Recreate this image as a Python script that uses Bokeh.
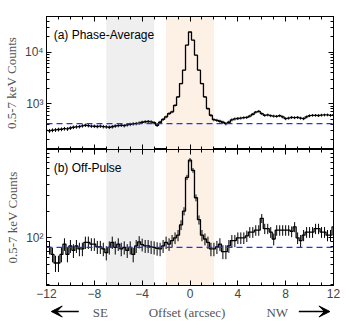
import numpy as np
from bokeh.plotting import figure
from bokeh.models import (Range1d, FixedTicker, LinearAxis, LogAxis, BoxAnnotation,
                          Span, Label, Arrow, VeeHead, CustomJSTickFormatter)
from bokeh.layouts import column
from bokeh.embed import file_html
from bokeh.resources import INLINE

# ---------------- data ----------------
offset = np.arange(-12.0, 12.001, 0.25)   # bin centres (arcsec)

counts_avg = [
    305, 300, 308, 312,
    318, 322, 330, 326,
    340, 352, 358, 362,
    375, 385, 378, 370,
    368, 364, 370, 362,
    358, 352, 360, 372,
    380, 385, 378, 392,
    400, 410, 415, 425,
    440, 450, 455, 448,
    430, 385, 440, 500,
    560, 650, 700, 935,
    1370, 2490, 4520, 13900,
    25000, 17400, 8850, 4520,
    2490, 1370, 810, 600,
    494, 480, 460, 440,
    413, 440, 490, 510,
    520, 530, 540, 545,
    580, 630, 690, 718,
    650, 600, 610, 590,
    580, 575, 590, 560,
    517, 530, 545, 540,
    545, 530, 517, 560,
    590, 600, 600, 595,
    605, 610, 612, 600,
    610]

counts_off = [
    78, 78, 65, 52,
    52, 65, 85, 65,
    81, 72, 81, 75,
    75, 89, 89, 85,
    85, 79, 79, 75,
    68, 78, 89, 78,
    85, 75, 78, 72,
    78, 65, 81, 90,
    84, 81, 81, 79,
    78, 76, 75, 81,
    89, 85, 93, 100,
    107, 140, 200, 480,
    752, 576, 283, 160,
    107, 97, 89, 75,
    75, 79, 85, 70,
    70, 81, 93, 93,
    100, 100, 100, 105,
    116, 116, 122, 122,
    166, 127, 127, 116,
    97, 122, 122, 122,
    122, 122, 118, 133,
    100, 93, 107, 116,
    116, 116, 127, 127,
    116, 116, 107, 107,
    133]

background_avg = 413
background_off = 78
bkg_region = (-7, -3)
src_region = (-2, 2)
x_major = [-12, -8, -4, 0, 4, 8, 12]
x_minor = list(range(-12, 13))
dir_labels = ["SE", "Offset (arcsec)", "NW"]
dir_label_x = [-7.5, -0.25, 7.3]

SERIF = "Liberation Serif"
SANS = "Liberation Sans"
LBL_COL = "#555555"
W = 340
BL, BR = 37, 7


def style_axis(ax, labels=True):
    ax.axis_line_color = "black"
    ax.major_tick_in = 5
    ax.major_tick_out = 0
    ax.minor_tick_in = 3
    ax.minor_tick_out = 0
    ax.major_tick_line_color = "black"
    ax.minor_tick_line_color = "black"
    ax.major_label_text_font = SANS
    ax.major_label_text_font_size = "12px"
    ax.major_label_text_color = "#444444"
    if labels:
        ax.major_label_standoff = 3
    else:
        ax.formatter = CustomJSTickFormatter(code="return ''")
        ax.major_label_standoff = 0
        ax.axis_label = None


def panel(counts, bkg, yr, ymaj, ymin, overrides, height, btop, bbot, show_x, title):
    p = figure(width=W, height=height, y_axis_type="log",
               x_range=Range1d(-12, 12), y_range=Range1d(*yr),
               output_backend="svg", toolbar_location=None,
               min_border_left=BL, min_border_right=BR,
               min_border_top=btop, min_border_bottom=bbot)
    p.grid.visible = False
    p.outline_line_color = "black"
    p.background_fill_color = "white"

    xt = FixedTicker(ticks=x_major, minor_ticks=x_minor)
    yt = FixedTicker(ticks=ymaj, minor_ticks=ymin)

    p.xaxis.ticker = xt
    p.yaxis.ticker = yt
    style_axis(p.xaxis[0], labels=show_x)
    style_axis(p.yaxis[0], labels=True)
    p.yaxis.major_label_overrides = overrides
    p.yaxis.axis_label = "0.5-7 keV Counts"
    p.yaxis.axis_label_text_font = SERIF
    p.yaxis.axis_label_text_font_style = "normal"
    p.yaxis.axis_label_text_font_size = "13px"
    p.yaxis.axis_label_text_color = LBL_COL
    p.yaxis.axis_label_standoff = 3

    top = LinearAxis(ticker=xt)
    style_axis(top, labels=False)
    p.add_layout(top, "above")
    right = LogAxis(ticker=yt)
    style_axis(right, labels=False)
    p.add_layout(right, "right")

    p.add_layout(BoxAnnotation(left=bkg_region[0], right=bkg_region[1],
                               fill_color="#efefef", fill_alpha=1, line_alpha=0,
                               level="underlay"))
    p.add_layout(BoxAnnotation(left=src_region[0], right=src_region[1],
                               fill_color="#fdf0e4", fill_alpha=1, line_alpha=0,
                               level="underlay"))

    c = np.array(counts, dtype=float)
    err = 1.5 * np.sqrt(c)
    p.segment(x0=offset, y0=c - err, x1=offset, y1=c + err,
              line_color="black", line_width=1)
    p.step(x=offset, y=c, mode="center", line_color="black", line_width=1.3)

    p.add_layout(Span(location=bkg, dimension="width", line_color="#2430ff",
                      line_dash="6 4", line_width=1.3))

    p.add_layout(Label(x=-11.4, y=yr[1], x_units="data", y_units="data",
                       y_offset=-18,
                       text=title, text_font=SANS, text_font_size="12px",
                       text_color="black", text_baseline="middle"))
    return p


p1 = panel(counts_avg, background_avg, (130, 50000),
           [1000, 10000],
           [200, 300, 400, 500, 600, 700, 800, 900,
            2000, 3000, 4000, 5000, 6000, 7000, 8000, 9000,
            20000, 30000, 40000],
           {1000: "10³", 10000: "10⁴"}, 149, 16, 0, False, "(a) Phase-Average")

p2 = panel(counts_off, background_off, (29, 990),
           [100],
           [30, 40, 50, 60, 70, 80, 90, 200, 300, 400, 500, 600, 700, 800, 900],
           {100: "10²"}, 153, 0, 17, True, "(b) Off-Pulse")

# bottom row: direction arrows and axis title, in a thin strip of its own
p3 = figure(width=W, height=18, x_range=Range1d(-12, 12), y_range=Range1d(0, 1),
            output_backend="svg", toolbar_location=None,
            x_axis_location=None, y_axis_location=None,
            min_border_left=BL, min_border_right=BR,
            min_border_top=0, min_border_bottom=0)
p3.grid.visible = False
p3.outline_line_color = None
for t, xx in zip(dir_labels, dir_label_x):
    p3.add_layout(Label(x=xx, y=0.5, y_offset=-1, text=t, text_font=SERIF,
                        text_font_size="13px", text_color=LBL_COL,
                        text_align="center", text_baseline="middle"))
p3.add_layout(Arrow(x_start=-9.3, y_start=0.5, x_end=-11.6, y_end=0.5,
                    line_color="black", line_width=1.5,
                    end=VeeHead(size=11, fill_color="black", line_color="black")))
p3.add_layout(Arrow(x_start=9.1, y_start=0.5, x_end=11.7, y_end=0.5,
                    line_color="black", line_width=1.5,
                    end=VeeHead(size=11, fill_color="black", line_color="black")))

layout = column(p1, p2, p3, spacing=0)
open("out.html", "w").write(file_html(layout, INLINE))
